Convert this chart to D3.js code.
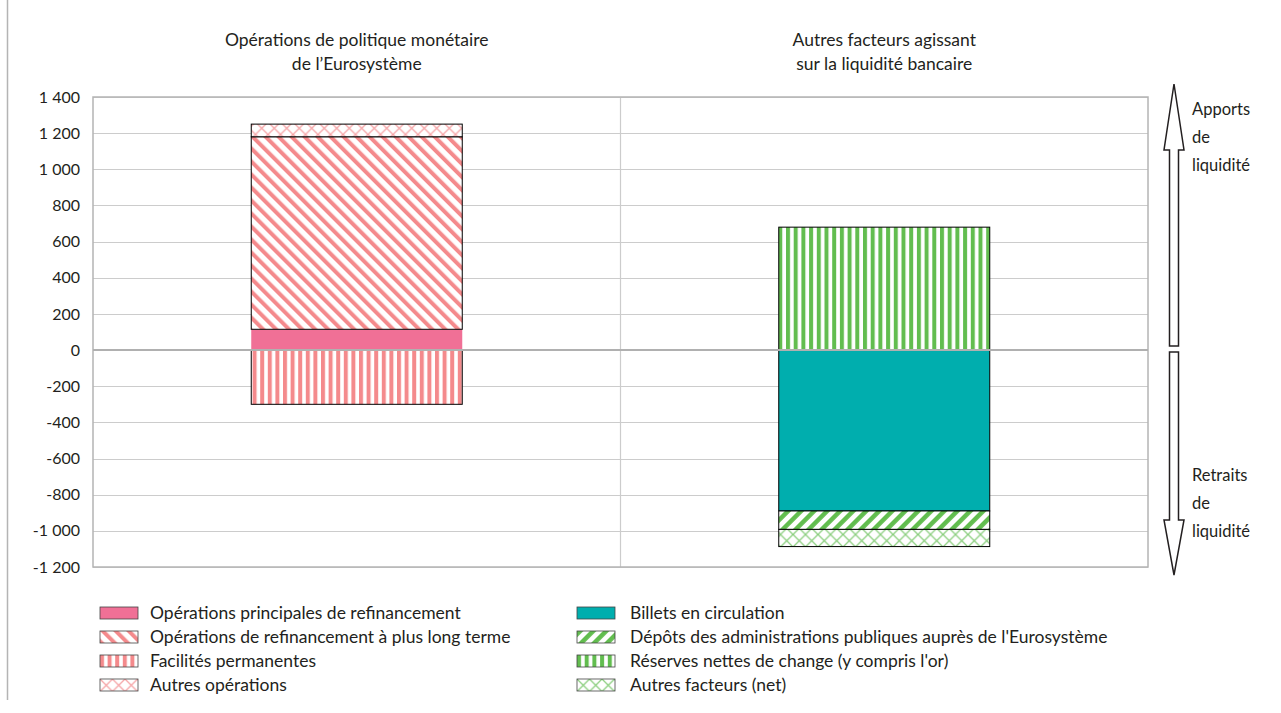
<!DOCTYPE html>
<meta charset="utf-8">
<style>
body { margin: 0; background: #fff; }
text { font-family: "Lato", "Open Sans", sans-serif; fill: #231f20; }
</style>
<svg width="1281" height="713"></svg>
<script src="https://cdn.jsdelivr.net/npm/d3@7"></script>
<script>

// categories (the two stacked bars)
var categories = ["Opérations de politique monétaire|de l’Eurosystème",
                  "Autres facteurs agissant|sur la liquidité bancaire"];

// series, in stacking order (Md€)
var seriesNames = [
  "Opérations principales de refinancement",
  "Opérations de refinancement à plus long terme",
  "Facilités permanentes",
  "Autres opérations",
  "Billets en circulation",
  "Dépôts des administrations publiques auprès de l'Eurosystème",
  "Réserves nettes de change (y compris l'or)",
  "Autres facteurs (net)"
];
var opr       = [115, 0];
var ltro      = [1065, 0];
var facilites = [-300, 0];
var autresOp  = [70, 0];
var billets   = [0, -890];
var depots    = [0, -102];
var reserves  = [0, 680];
var autresFac = [0, -95];

var yTicks = [-1200, -1000, -800, -600, -400, -200, 0, 200, 400, 600, 800, 1000, 1200, 1400];
var arrowUp = ["Apports", "de", "liquidité"];
var arrowDown = ["Retraits", "de", "liquidité"];

var seriesValues = [opr, ltro, facilites, autresOp, billets, depots, reserves, autresFac];
var table = categories.map(function(c, i) {
  var row = {cat: c};
  seriesNames.forEach(function(k, j) { row[k] = seriesValues[j][i]; });
  return row;
});

var svg = d3.select("svg"),
    margin = {top: 97, right: 133, bottom: 146, left: 93},
    width = 1281 - margin.left - margin.right,
    height = 713 - margin.top - margin.bottom;

var pink = "#f48a8c", green = "#62bd4f";

// patterns
var defs = svg.append("defs");
function stripes(id, color, period, w, angle) {
  var p = defs.append("pattern")
      .attr("id", id)
      .attr("patternUnits", "userSpaceOnUse")
      .attr("width", period).attr("height", period)
      .attr("patternTransform", "rotate(" + angle + ")");
  p.append("rect").attr("width", period).attr("height", period).attr("fill", "#fff");
  p.append("rect").attr("x", 0).attr("width", w).attr("height", period).attr("fill", color);
}
function cross(id, color, size) {
  var p = defs.append("pattern")
      .attr("id", id)
      .attr("patternUnits", "userSpaceOnUse")
      .attr("width", size).attr("height", size);
  p.append("rect").attr("width", size).attr("height", size).attr("fill", "#fff");
  p.append("path")
      .attr("d", "M0,0L" + size + "," + size + "M" + size + ",0L0," + size)
      .attr("stroke", color).attr("stroke-width", 1.3).attr("fill", "none");
}
stripes("p-ltro", pink, 9.2, 4, -45);
stripes("p-fac", pink, 7.6, 4, 0);
cross("p-autop", "#f6a4a6", 12.5);
stripes("p-dep", green, 9.2, 4.5, 45);
stripes("p-res", green, 7.7, 4, 0);
cross("p-autfac", "#8ccf7f", 12.5);

var fills = ["#f07096", "url(#p-ltro)", "url(#p-fac)", "url(#p-autop)",
             "#00aeae", "url(#p-dep)", "url(#p-res)", "url(#p-autfac)"];
var strokes = ["none", "#000", "#000", "#000", "#000", "#000", "#000", "#000"];

var g = svg.append("g")
    .attr("transform", "translate(" + margin.left + "," + margin.top + ")");

var x = d3.scaleBand().domain(categories).range([0, width]).padding(0);
var y = d3.scaleLinear().domain([-1200, 1400]).range([height, 0]);
var barW = x.bandwidth() * 0.4;

var locale = d3.formatLocale({decimal: ",", thousands: "\u00a0", grouping: [3], currency: ["", ""], minus: "-"});
var fmt = locale.format(",");

// left frame line
svg.append("line")
    .attr("x1", 7.5).attr("x2", 7.5).attr("y1", 0).attr("y2", 700)
    .attr("stroke", "#b4b4b4").attr("stroke-width", 1.5);

// grid
g.selectAll(".grid").data(yTicks).enter().append("line")
    .attr("x1", 0).attr("x2", width)
    .attr("y1", function(d) { return Math.round(y(d)) + 0.5; })
    .attr("y2", function(d) { return Math.round(y(d)) + 0.5; })
    .attr("stroke", "#cccccc").attr("stroke-width", 1.2);
g.append("line")
    .attr("x1", x.step()).attr("x2", x.step()).attr("y1", 0).attr("y2", height)
    .attr("stroke", "#cccccc").attr("stroke-width", 1.2);
g.append("rect")
    .attr("x", 0).attr("y", 0).attr("width", width).attr("height", height)
    .attr("fill", "none").attr("stroke", "#b4b4b4").attr("stroke-width", 1.5);

// bars
var stack = d3.stack().keys(seriesNames).offset(d3.stackOffsetDiverging);
var layers = stack(table);

g.selectAll(".layer").data(layers).enter().append("g")
    .attr("fill", function(d, i) { return fills[i]; })
    .attr("stroke", function(d, i) { return strokes[i]; })
  .selectAll("rect").data(function(d) { return d.filter(function(e) { return e[1] - e[0] !== 0; }); })
  .enter().append("rect")
    .attr("x", function(d) { return x(d.data.cat) + (x.bandwidth() - barW) / 2; })
    .attr("width", barW)
    .attr("y", function(d) { return y(d[1]); })
    .attr("height", function(d) { return y(d[0]) - y(d[1]); })
    .attr("stroke-width", 1);

// zero line
g.append("line")
    .attr("x1", 0).attr("x2", width).attr("y1", y(0)).attr("y2", y(0))
    .attr("stroke", "#b0b0b0").attr("stroke-width", 2);

// y axis
var yAxis = g.append("g")
    .call(d3.axisLeft(y).tickValues(yTicks).tickFormat(fmt).tickSize(0).tickPadding(13));
yAxis.select(".domain").remove();
yAxis.selectAll("text").style("font-size", "16px").attr("fill", "#231f20")
    .style("font-family", "Lato, sans-serif");

// category titles
g.selectAll(".cat").data(categories).enter().append("text")
    .attr("text-anchor", "middle")
    .attr("x", function(d) { return x(d) + x.bandwidth() / 2; })
    .attr("y", -51)
    .style("font-size", "17.5px")
    .selectAll("tspan").data(function(d) { return d.split("|"); })
    .enter().append("tspan")
    .attr("x", function() { var c = d3.select(this.parentNode).datum(); return x(c) + x.bandwidth() / 2; })
    .attr("dy", function(d, i) { return i ? 24 : 0; })
    .text(function(d) { return d; });

// double arrow
var ax = width + 26, sw = 4.5, hw = 10;
var topTip = -13, topBase = 53, midA = y(0) - 4, midB = y(0) + 2, botBase = 423, botTip = 478;
g.append("path")
    .attr("d", "M" + ax + "," + topTip + "L" + (ax + hw) + "," + topBase + "L" + (ax + sw) + "," + topBase +
               "L" + (ax + sw) + "," + midA + "L" + (ax - sw) + "," + midA + "L" + (ax - sw) + "," + topBase +
               "L" + (ax - hw) + "," + topBase + "Z")
    .attr("fill", "#fff").attr("stroke", "#231f20").attr("stroke-width", 1.5);
g.append("path")
    .attr("d", "M" + ax + "," + botTip + "L" + (ax + hw) + "," + botBase + "L" + (ax + sw) + "," + botBase +
               "L" + (ax + sw) + "," + midB + "L" + (ax - sw) + "," + midB + "L" + (ax - sw) + "," + botBase +
               "L" + (ax - hw) + "," + botBase + "Z")
    .attr("fill", "#fff").attr("stroke", "#231f20").attr("stroke-width", 1.5);

g.selectAll(".up").data(arrowUp).enter().append("text")
    .attr("x", width + 44).attr("y", function(d, i) { return 18 + i * 28; })
    .style("font-size", "16.5px").text(function(d) { return d; });
g.selectAll(".down").data(arrowDown).enter().append("text")
    .attr("x", width + 44).attr("y", function(d, i) { return 384 + i * 28; })
    .style("font-size", "16.5px").text(function(d) { return d; });

// legend
var legend = svg.append("g");
var item = legend.selectAll(".item").data(seriesNames).enter().append("g")
    .attr("transform", function(d, i) {
      var col = Math.floor(i / 4), row = i % 4;
      return "translate(" + (col ? 577 : 100) + "," + (607 + row * 24) + ")";
    });
item.append("rect")
    .attr("width", 38).attr("height", 12)
    .attr("fill", function(d, i) { return fills[i]; })
    .attr("stroke", "#444").attr("stroke-width", 0.8);
item.append("text")
    .attr("x", function(d, i) { return i < 4 ? 50 : 53; })
    .attr("y", 12)
    .style("font-size", "17.5px")
    .text(function(d) { return d; });

</script>
